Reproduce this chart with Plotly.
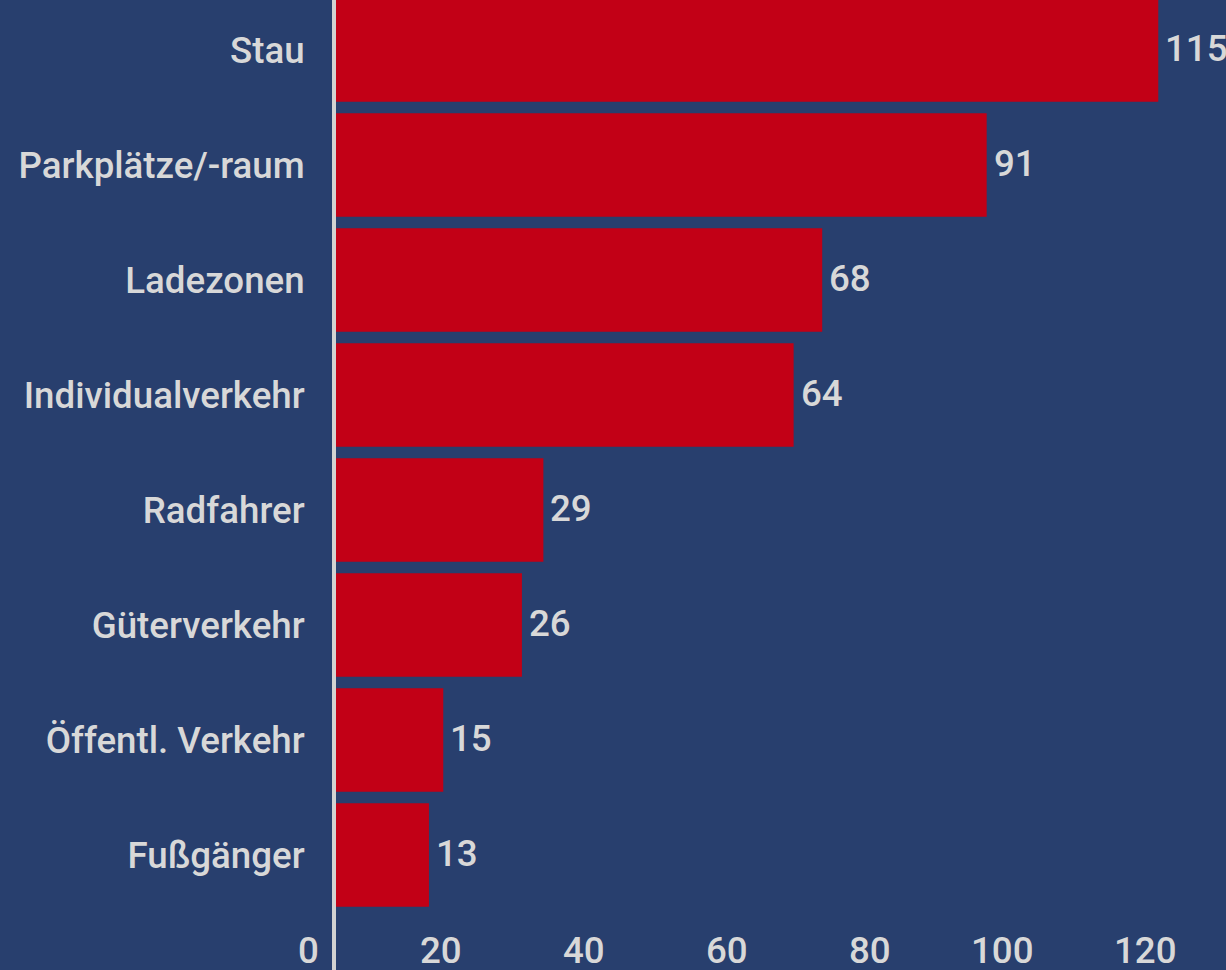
import plotly.graph_objects as go

categories = ["Fußgänger", "Öffentl. Verkehr", "Güterverkehr", "Radfahrer",
              "Individualverkehr", "Ladezonen", "Parkplätze/-raum", "Stau"]
values = [13, 15, 26, 29, 64, 68, 91, 115]
x_ticks = [0, 20, 40, 60, 80, 100, 120]

BG = "#283F6E"
RED = "#C20016"
TXT = "#D8D8D8"
FONT = "Roboto"
FS = 36.7
FW = 500

fig = go.Figure()
fig.add_trace(go.Bar(
    x=values, y=categories, orientation="h",
    marker=dict(color=RED, line=dict(width=0)),
    hoverinfo="skip",
))

annotations = []
for c, v in zip(categories, values):
    annotations.append(dict(
        x=v, y=c, xref="x", yref="y", text=str(v), showarrow=False,
        xanchor="left", yanchor="middle", xshift=5, yshift=2,
        font=dict(family=FONT, size=FS, color=TXT, weight=FW),
    ))
for t in x_ticks:
    annotations.append(dict(
        x=t, y=(970 - 950.5) / 970, xref="x", yref="paper", text=str(t),
        showarrow=False, xanchor="right", yanchor="middle", xshift=-15.5,
        font=dict(family=FONT, size=FS, color=TXT, weight=FW),
    ))

fig.update_layout(
    width=1226, height=970,
    margin=dict(l=336, r=0, t=0, b=0, pad=0),
    paper_bgcolor=BG, plot_bgcolor=BG,
    bargap=0.1,
    showlegend=False,
    annotations=annotations,
    xaxis=dict(range=[0, (1226 - 336.4) / 7.147], showgrid=False, zeroline=False,
               showticklabels=False, showline=False, ticks=""),
    yaxis=dict(type="category", categoryorder="array", categoryarray=categories,
               range=[-1.0, 7 + 50 / 115], showgrid=False, zeroline=False,
               showline=True, linecolor="#D2D2D2", linewidth=4, ticks="",
               ticklabelstandoff=20,
               tickfont=dict(family=FONT, size=FS, color=TXT, weight=FW)),
)

fig.write_html("out.html", config={"displayModeBar": False},
               post_script="document.body.style.margin='0';document.body.style.overflow='hidden';")
